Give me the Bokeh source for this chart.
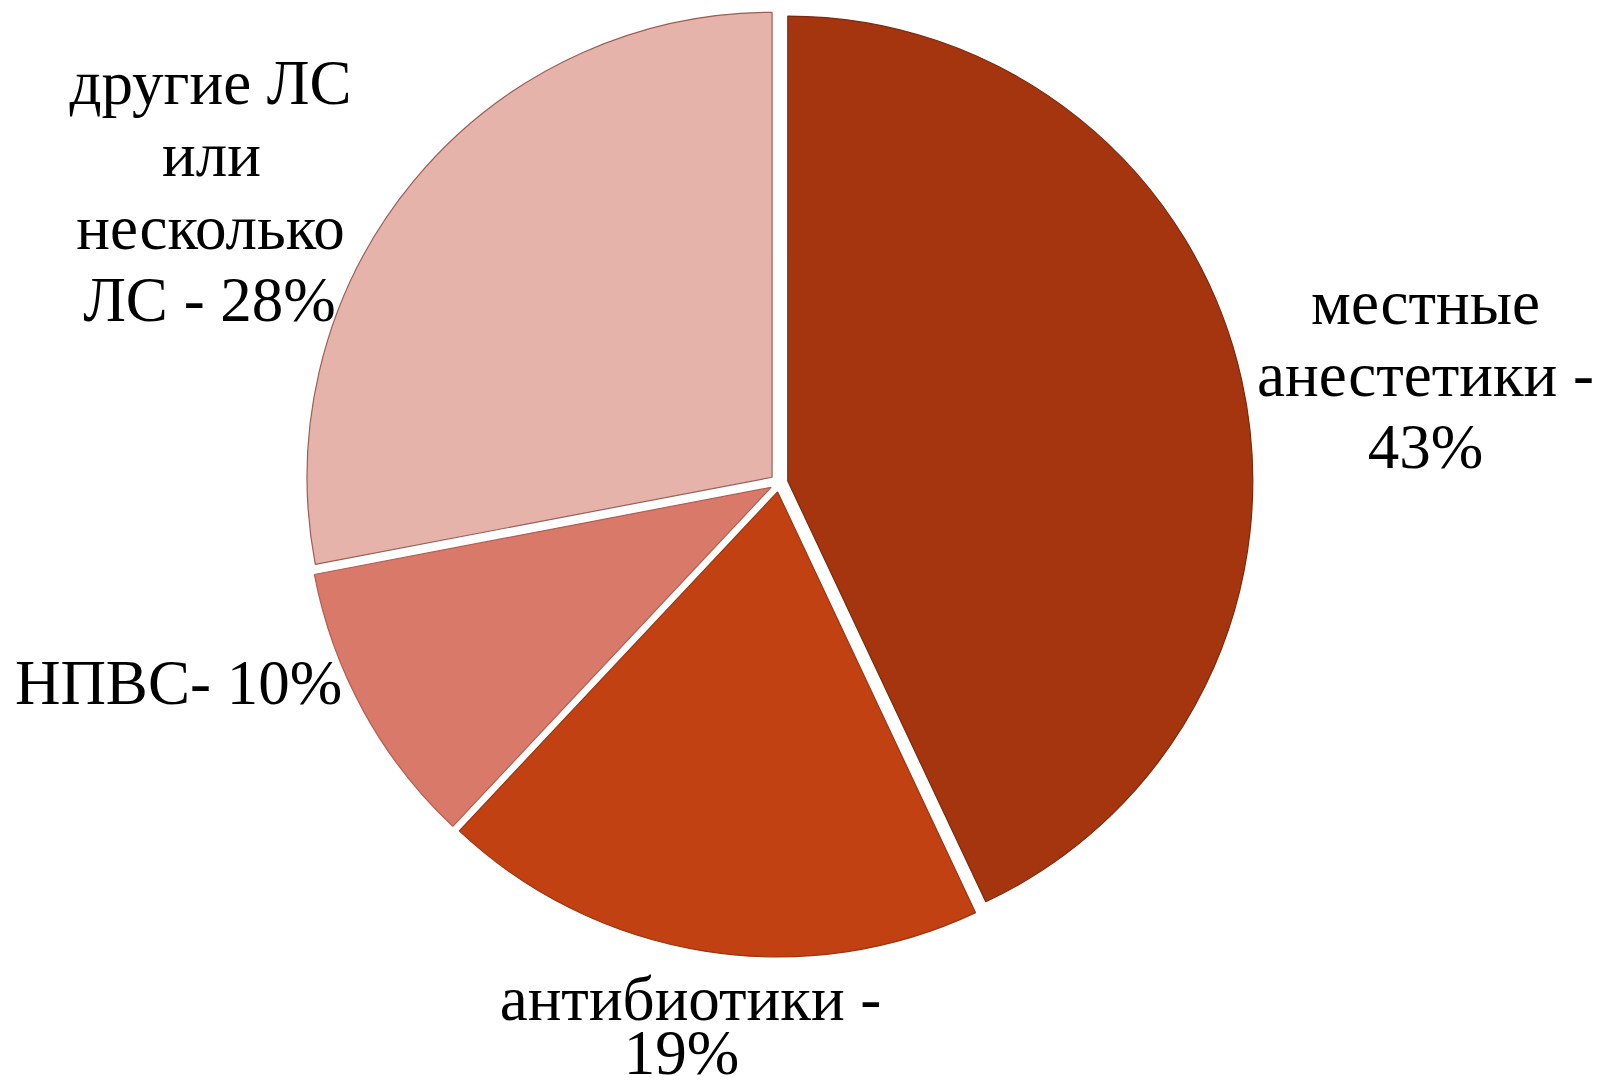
import numpy as np
from bokeh.plotting import figure
from bokeh.models import Range1d, ColumnDataSource
from bokeh.core.properties import value
from bokeh.embed import file_html
from bokeh.resources import INLINE

# ---- data ----
categories = ["местные анестетики", "антибиотики", "НПВС", "другие ЛС или несколько ЛС"]
shares = [43, 19, 10, 28]
label_lines = [
    ["местные", "анестетики -", "43%"],
    ["антибиотики -", "19%"],
    ["НПВС- 10%"],
    ["другие ЛС", "или", "несколько", "ЛС - 28%"],
]

# ---- styles / layout ----
colors = ["#A4350F", "#C24113", "#D9796A", "#E6B3AB"]
edge_colors = ["#7E280B", "#9E3510", "#B25E50", "#9A5E55"]
label_x = [[1425, 1425, 1425], [690, 681], [178], [210, 211, 210, 209]]
label_y = [[324, 396, 468], [1020, 1074], [704], [104, 176, 249, 321]]  # screen baselines
baseline_shift = 22
font_px = 63

W, H = 1600, 1088
SH = 1088
cx, cy = 778.5, SH - 482.5
R = 465
explode = 9

fracs = np.array(shares, dtype=float) / sum(shares)
ends = np.pi / 2 - 2 * np.pi * np.cumsum(fracs)
starts = np.concatenate([[np.pi / 2], ends[:-1]])
mids = (starts + ends) / 2
xs = cx + explode * np.cos(mids)
ys = cy + explode * np.sin(mids)

wedges = ColumnDataSource(dict(
    x=xs, y=ys, start=starts, end=ends, color=colors, edge=edge_colors, cat=categories,
))

tx, ty, tt = [], [], []
for lines, lx, ly in zip(label_lines, label_x, label_y):
    for s, a, b in zip(lines, lx, ly):
        tx.append(a)
        ty.append(SH - (b - baseline_shift))
        tt.append(s)
texts = ColumnDataSource(dict(x=tx, y=ty, text=tt))

p = figure(width=W, height=H, output_backend="svg", toolbar_location=None,
           x_range=Range1d(0, W), y_range=Range1d(SH - H, SH),
           min_border=0, background_fill_color="white", border_fill_color="white")
p.axis.visible = False
p.grid.visible = False
p.outline_line_color = None

p.wedge(x="x", y="y", radius=R, start_angle="start", end_angle="end", direction="clock",
        fill_color="color", line_color="edge", line_width=1.2, source=wedges)

p.text(x="x", y="y", text="text", source=texts, text_align="center",
       text_baseline="alphabetic", text_font=value("Liberation Serif"),
       text_font_size=f"{font_px}px", text_color="black")

open("out.html", "w").write(file_html(p, INLINE))
